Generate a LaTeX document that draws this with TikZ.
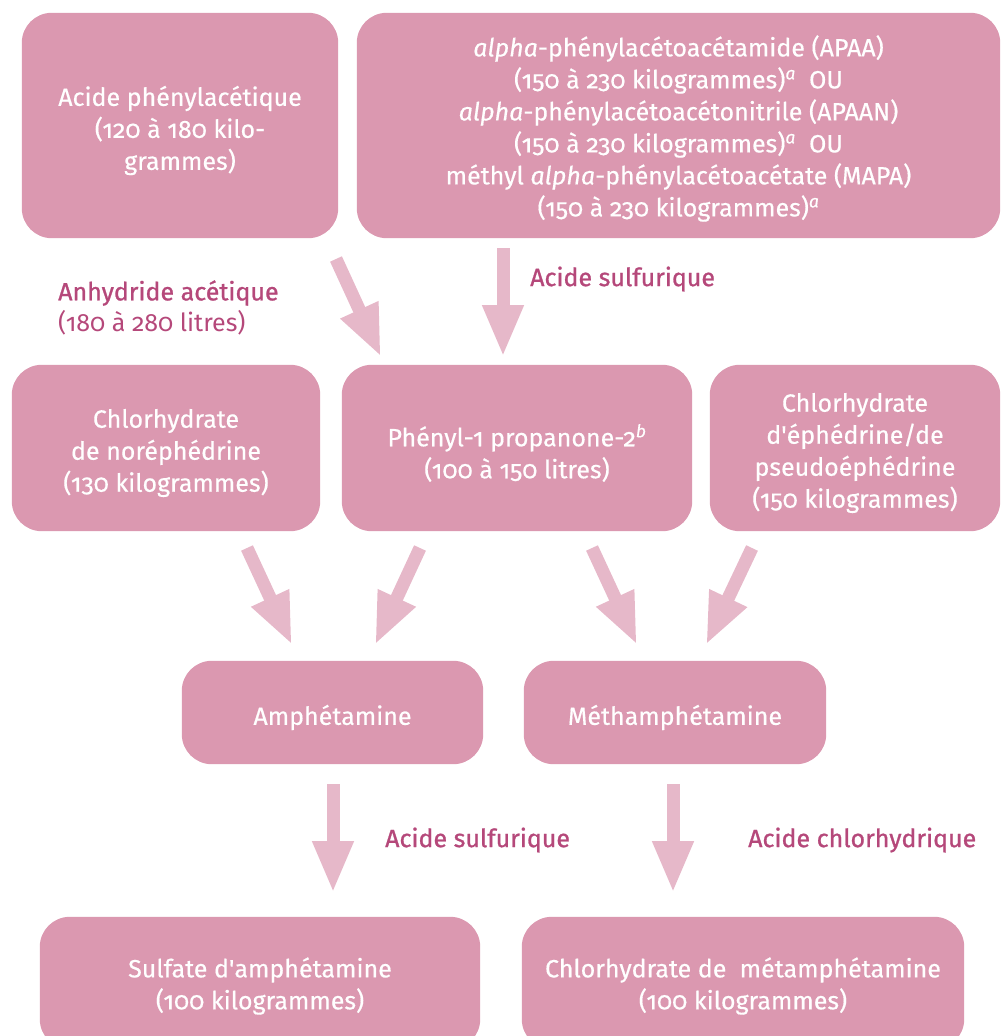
\documentclass[tikz,border=0pt]{standalone}
\usepackage{fontspec}
\setmainfont{Fira Sans}[Numbers=OldStyle,FakeBold=0.45]
\newfontfamily\labfont{Fira Sans}[Numbers=OldStyle,FakeBold=1.0]
\newfontfamily\regfont{Fira Sans}[Numbers=OldStyle]
\usetikzlibrary{arrows.meta,backgrounds}
\definecolor{boxc}{HTML}{DB98B0}
\definecolor{arrc}{HTML}{E6B8C9}
\definecolor{labc}{HTML}{B5487A}
\begin{document}
\begin{tikzpicture}[x=1pt,y=-1pt,
  box/.style={text=white, align=center,
    font=\fontsize{25}{32}\selectfont, inner sep=0pt},
  boxfill/.style={fill=boxc, rounded corners=30pt},
  lab/.style={text=labc, anchor=west, align=left, inner sep=0pt,
    font=\fontsize{25}{32}\selectfont},
  arr/.style={draw=arrc, line width=13pt, -{Triangle[width=38pt,length=52pt]}}]
\useasboundingbox (0,0) rectangle (1006,1036);
\clip (0,0) rectangle (1006,1036);
% text nodes are placed 5 units below the box centre
% row 1
\node[box, minimum width=316pt, minimum height=225pt] (b1) at (180,130.5)
  {Acide phénylacétique\\(120 à 180 kilo-\\grammes)};
\node[box, minimum width=643pt, minimum height=225pt] (b2) at (678.5,128.5)
  {\textit{alpha}-phénylacétoacétamide (APAA)\\
   (150 à 230 kilogrammes)\textsuperscript{\textit{a}}~ OU\\
   \textit{alpha}-phénylacétoacétonitrile (APAAN)\\
   (150 à 230 kilogrammes)\textsuperscript{\textit{a}}~ OU\\
   méthyl \textit{alpha}-phénylacétoacétate (MAPA)\\
   (150 à 230 kilogrammes)\textsuperscript{\textit{a}}};
% row 2
\node[box, minimum width=308pt, minimum height=166pt] (c1) at (166,453)
  {Chlorhydrate\\de noréphédrine\\(130 kilogrammes)};
\node[box, minimum width=350pt, minimum height=166pt] (c2) at (517,453)
  {Phényl-1 propanone-2\textsuperscript{\textit{b}}\\(100 à 150 litres)};
\node[box, minimum width=290pt, minimum height=166pt] (c3) at (855,453)
  {Chlorhydrate\\d\textquotesingle éphédrine/de\\pseudoéphédrine\\(150 kilogrammes)};
% row 3
\node[box, minimum width=301pt, minimum height=103pt] (d1) at (332.5,717.5) {Amphétamine};
\node[box, minimum width=302pt, minimum height=103pt] (d2) at (675,717.5) {Méthamphétamine};
% row 4
\node[box, minimum width=440pt, minimum height=132pt] (e1) at (260,986)
  {Sulfate d\textquotesingle amphétamine\\(100 kilogrammes)};
\node[box, minimum width=442pt, minimum height=132pt] (e2) at (743,986)
  {Chlorhydrate de~ métamphétamine\\(100 kilogrammes)};
% box backgrounds
\begin{scope}[on background layer]
  \foreach \n/\s in {b1/5,b2/3,c1/5,c2/5,c3/5,d1/5,d2/5,e1/3,e2/3}
    \fill[boxc, rounded corners=30pt]
      ([yshift=\s pt]\n.north west) rectangle ([yshift=\s pt]\n.south east);
\end{scope}
% labels
\node[lab] (l1) at (58,293) {{\labfont Anhydride acétique}};
\node[lab] (l1b) at (58,323) {{\regfont (180 à 280 litres)}};
\node[lab] (l2) at (530,279) {{\labfont Acide sulfurique}};
\node[lab] (l3) at (385,840) {{\labfont Acide sulfurique}};
\node[lab] (l4) at (748,840) {{\labfont Acide chlorhydrique}};
% arrow end points
\coordinate (a1s) at (336,259); \coordinate (a1e) at (381,357);
\coordinate (a2s) at (503,248); \coordinate (a2e) at (503,357);
\coordinate (a3s) at (247,548); \coordinate (a3e) at (292,645);
\coordinate (a4s) at (420,548); \coordinate (a4e) at (375,645);
\coordinate (a5s) at (592,548); \coordinate (a5e) at (637,645);
\coordinate (a6s) at (752,548); \coordinate (a6e) at (706,645);
\coordinate (a7s) at (333,784); \coordinate (a7e) at (333,893);
\coordinate (a8s) at (673,784); \coordinate (a8e) at (673,893);
\foreach \i in {1,...,8} {\draw[arr] (a\i s) -- (a\i e);}
\end{tikzpicture}
\end{document}
